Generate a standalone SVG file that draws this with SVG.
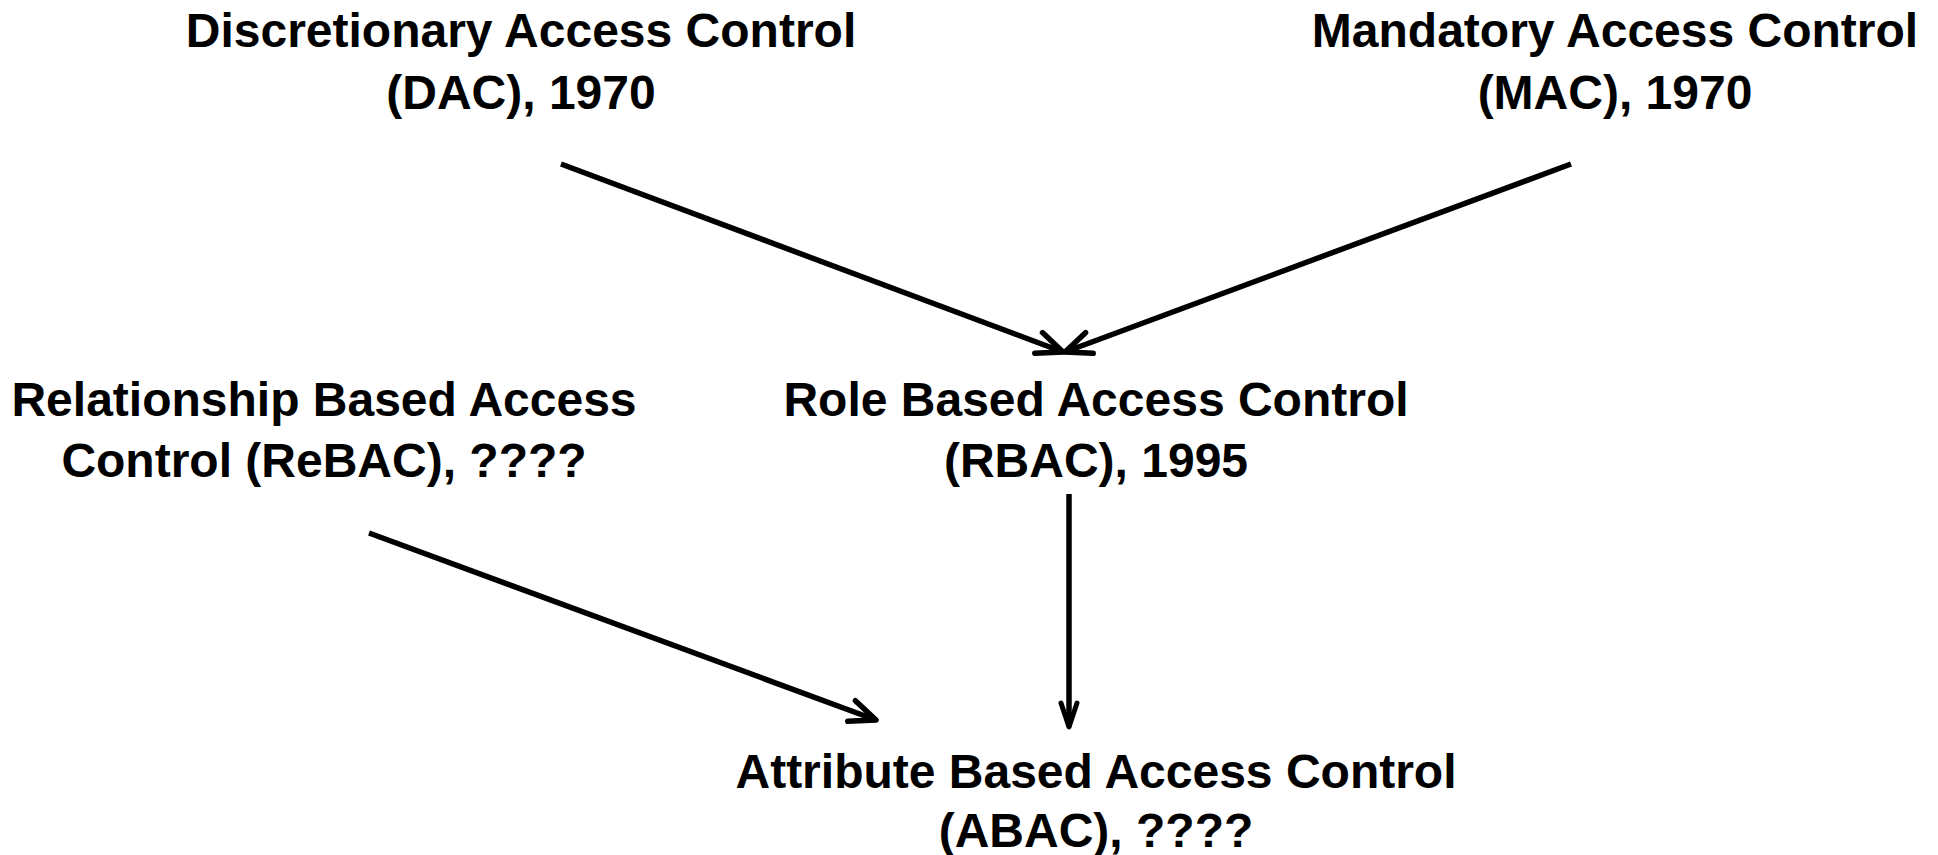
<svg xmlns="http://www.w3.org/2000/svg" width="1938" height="855" viewBox="0 0 1938 855">
<defs>
<style>
.t{font-family:"Liberation Sans",Arial,sans-serif;font-weight:bold;font-size:48px;fill:#000;text-anchor:middle}
.c{fill:none;stroke:#000;stroke-width:5.5}
</style>
<marker id="arr" markerUnits="userSpaceOnUse" viewBox="-32 -16 36 32" refX="0" refY="0" markerWidth="36" markerHeight="32" orient="auto" overflow="visible">
<path d="M-26,-11 L0,0 L-26,11" fill="none" stroke="#000" stroke-width="5.5" stroke-linecap="round" stroke-linejoin="round"/>
</marker>
<marker id="arrv" markerUnits="userSpaceOnUse" viewBox="-32 -16 36 32" refX="0" refY="0" markerWidth="36" markerHeight="32" orient="auto" overflow="visible">
<path d="M-24,-8 L0,0 L-24,8" fill="none" stroke="#000" stroke-width="5" stroke-linecap="round" stroke-linejoin="round"/>
</marker>
</defs>
<rect width="1938" height="855" fill="#fff"/>
<g id="dac"><text class="t" x="521" y="47">Discretionary Access Control</text><text class="t" x="521" y="109">(DAC), 1970</text></g>
<g id="mac"><text class="t" x="1615" y="47">Mandatory Access Control</text><text class="t" x="1615" y="109">(MAC), 1970</text></g>
<g id="rebac"><text class="t" x="324" y="416">Relationship Based Access</text><text class="t" x="324" y="477">Control (ReBAC), ????</text></g>
<g id="rbac"><text class="t" x="1096" y="416">Role Based Access Control</text><text class="t" x="1096" y="477">(RBAC), 1995</text></g>
<g id="abac"><text class="t" x="1096" y="788">Attribute Based Access Control</text><text class="t" x="1096" y="847">(ABAC), ????</text></g>
<g id="connectors">
<line class="c" x1="561" y1="164" x2="1063" y2="352" marker-end="url(#arr)"/>
<line class="c" x1="1571" y1="164" x2="1065" y2="352" marker-end="url(#arr)"/>
<line class="c" x1="1069" y1="494" x2="1069" y2="727" marker-end="url(#arrv)"/>
<line class="c" x1="369" y1="533" x2="876" y2="720" marker-end="url(#arr)"/>
</g>
</svg>
